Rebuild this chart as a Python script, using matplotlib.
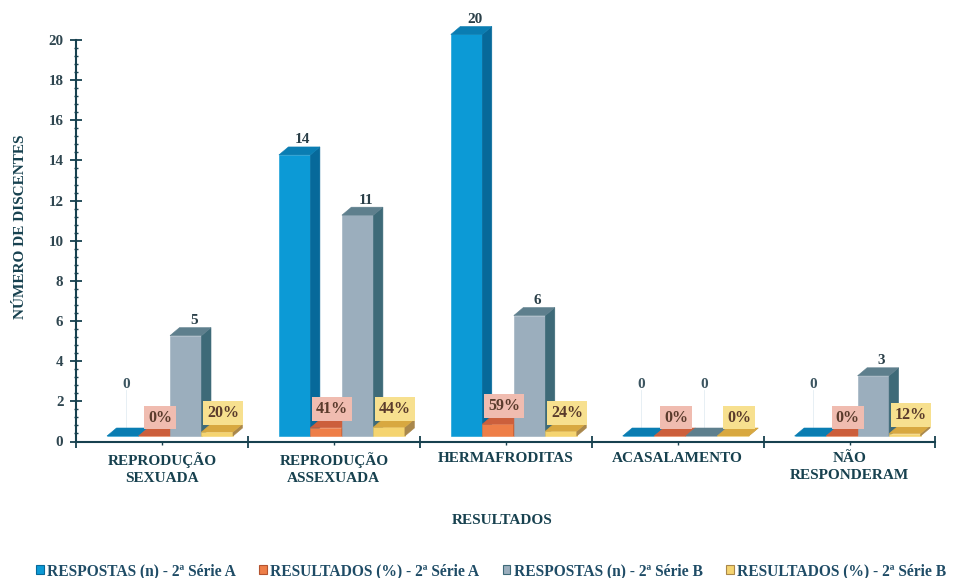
import matplotlib
matplotlib.use("Agg")
import matplotlib.pyplot as plt
from matplotlib.patches import Patch, Polygon
from matplotlib.ticker import MultipleLocator, FixedLocator, NullFormatter

categories = ["REPRODUÇÃO\nSEXUADA", "REPRODUÇÃO\nASSEXUADA", "HERMAFRODITAS",
              "ACASALAMENTO", "NÃO\nRESPONDERAM"]
respostas_a = [0, 14, 20, 0, 0]
resultados_a = [0, 41, 59, 0, 0]
respostas_b = [5, 11, 6, 0, 3]
resultados_b = [20, 44, 24, 0, 12]
series_names = ["RESPOSTAS (n) - 2ª Série A", "RESULTADOS (%) - 2ª Série A",
                "RESPOSTAS (n) - 2ª Série B", "RESULTADOS (%) - 2ª Série B"]
y_ticks = list(range(0, 21, 2))

W, H = 962, 578
INK = "#17414F"
FONT = "Liberation Serif"

# front, side and top faces of each series
palette = [("#0C9AD6", "#07699A", "#0A7DB2"),
           ("#EE7E48", "#B4532F", "#CC5F3C"),
           ("#9BAEBD", "#3E6A78", "#5E7F8D"),
           ("#F5D470", "#A9874B", "#D8A840")]
label_boxes = {1: "#F0BCB0", 3: "#F7E08F"}

fig = plt.figure(figsize=(W / 100, H / 100), dpi=100, facecolor="white")
ax = fig.add_axes([76 / W, 1 - 441.5 / H, (935.5 - 76) / W, (441.5 - 40) / H])
ax.set_xlim(0, 5)
ax.set_ylim(0, 20)

px_x = 5 / (935.5 - 76)      # one pixel in x data units
px_y = 20 / (441.5 - 40)     # one pixel in y data units
start = 31 * px_x
bar_w = 31.5 * px_x
depth_x = 9.5 * px_x
depth_y = 8 * px_y
floor = 5.5 * px_y


def draw_bar(x, h, colors):
    front, side, top = colors
    y0, y1 = floor, floor + h
    x1 = x + bar_w
    faces = [
        (front, [(x, y0), (x1, y0), (x1, y1), (x, y1)]),
        (side, [(x1, y0), (x1 + depth_x, y0 + depth_y),
                (x1 + depth_x, y1 + depth_y), (x1, y1)]),
        (top, [(x, y1), (x1, y1), (x1 + depth_x, y1 + depth_y),
               (x + depth_x, y1 + depth_y)]),
    ]
    for color, pts in faces:
        ax.add_patch(Polygon(pts, closed=True, facecolor=color, edgecolor=color,
                             linewidth=0.4, clip_on=False, zorder=3))


series = [respostas_a, resultados_a, respostas_b, resultados_b]
for g in range(len(categories)):
    for s, values in enumerate(series):
        x = g + start + s * bar_w
        raw = values[g]
        h = raw / 100 if s % 2 else raw
        draw_bar(x, h, palette[s])
        top_y = floor + h
        if s % 2:
            ax.text(x + bar_w / 2 + 6 * px_x, top_y + 18.5 * px_y, f"{raw}%",
                    ha="center", va="center", family=FONT, weight="bold",
                    fontsize=11.5, color="#5A3B2C", zorder=5,
                    bbox=dict(boxstyle="square,pad=0.25",
                              facecolor=label_boxes[s], edgecolor="none"))
        elif raw == 0:
            lx = x + bar_w / 2 + 3 * px_x
            ax.plot([lx, lx], [top_y + depth_y, top_y + 46 * px_y], color="#E3EDF2",
                    lw=0.6, zorder=2, clip_on=False)
            ax.text(lx, top_y + 51 * px_y, "0", ha="center", va="center",
                    family=FONT, weight="bold", fontsize=11, color="#3C5560", zorder=5)
        else:
            ax.text(x + bar_w / 2 + 8 * px_x, top_y + depth_y + 7 * px_y, str(raw),
                    ha="center", va="center", family=FONT, weight="bold",
                    fontsize=11, color="#2A3F48", zorder=5, clip_on=False)

# axes
for side in ("top", "right"):
    ax.spines[side].set_visible(False)
for side in ("left", "bottom"):
    ax.spines[side].set_color(INK)
    ax.spines[side].set_linewidth(1.5)
ax.patch.set_alpha(0)

ax.yaxis.set_major_locator(FixedLocator(y_ticks))
ax.yaxis.set_minor_locator(MultipleLocator(0.4))
ax.tick_params(axis="y", which="major", direction="inout", length=8, width=1.3,
               color=INK, pad=5)
ax.tick_params(axis="y", which="minor", direction="inout", length=3.5, width=1, color=INK)
ax.set_yticklabels([str(v) for v in y_ticks], family=FONT, weight="bold",
                   fontsize=10.8, color="#2F4650")

ax.xaxis.set_major_locator(FixedLocator(range(6)))
ax.xaxis.set_major_formatter(NullFormatter())
ax.xaxis.set_minor_locator(FixedLocator([g + 0.5 for g in range(5)]))
ax.set_xticklabels([], minor=False)
ax.set_xticklabels(categories, minor=True, family=FONT, weight="bold", fontsize=11,
                   color=INK, linespacing=1.45, va="top")
ax.tick_params(axis="x", which="major", direction="inout", length=8.5, width=1.3, color=INK)
ax.tick_params(axis="x", which="minor", direction="out", length=2.5, width=1,
               color=INK, pad=5)

fig.text(21 / W, 1 - 227 / H, "NÚMERO DE DISCENTES", rotation=90, ha="center", va="center",
         family=FONT, weight="bold", fontsize=11, color=INK)
fig.text(502 / W, 1 - 521 / H, "RESULTADOS", ha="center", va="center",
         family=FONT, weight="bold", fontsize=11, color=INK)

handles = [Patch(facecolor=c[0], edgecolor=c[1], linewidth=0.8) for c in palette]
fig.legend(handles, series_names, loc="center", bbox_to_anchor=(491 / W, 1 - 571 / H),
           ncol=4, frameon=False, handlelength=0.5, handleheight=0.5, handletextpad=0.2,
           columnspacing=1.5, borderpad=0,
           prop=dict(family=FONT, weight="bold", size=11.2),
           labelcolor="#1F4C66")

fig.savefig("out.png", dpi=100)
